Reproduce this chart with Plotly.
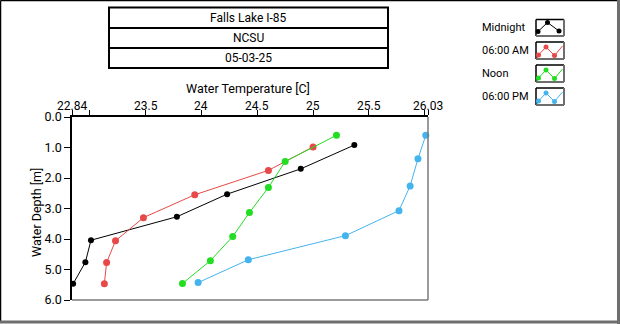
import plotly.graph_objects as go

# Temperature profiles (deg C) against depth (m) for four times of day
depth_midnight = [0.92, 1.70, 2.53, 3.27, 4.04, 4.76, 5.47]
temp_midnight = [25.37, 24.89, 24.23, 23.78, 23.01, 22.96, 22.85]

depth_6am = [0.98, 1.75, 2.55, 3.30, 4.06, 4.77, 5.47]
temp_6am = [25.00, 24.60, 23.94, 23.48, 23.23, 23.15, 23.13]

depth_noon = [0.60, 1.46, 2.31, 3.13, 3.92, 4.71, 5.46]
temp_noon = [25.21, 24.75, 24.60, 24.43, 24.28, 24.08, 23.83]

depth_6pm = [0.60, 1.37, 2.26, 3.07, 3.89, 4.68, 5.43]
temp_6pm = [26.01, 25.94, 25.87, 25.77, 25.29, 24.42, 23.97]

series_names = ["Midnight", "06:00 AM", "Noon", "06:00 PM"]
header_lines = ["Falls Lake I-85", "NCSU", "05-03-25"]

x_tickvals = [22.84, 23, 23.5, 24, 24.5, 25, 25.5, 26, 26.03]
x_ticktext = ["22.84", "", "23.5", "24", "24.5", "25", "25.5", "", "26.03"]
y_tickvals = [0, 1, 2, 3, 4, 5, 6]
y_ticktext = ["0.0", "1.0", "2.0", "3.0", "4.0", "5.0", "6.0"]

COLORS = ["#000000", "#E84848", "#22DD22", "#44B4EE"]
FONT = "Roboto"

W, H = 620, 324
L, R, T, B = 72, 428, 117, 300  # plot area in pixels


def px(x):
    return (x - L) / (R - L)


def py(y):
    return (B - y) / (B - T)


fig = go.Figure()
profiles = [(temp_midnight, depth_midnight), (temp_6am, depth_6am),
            (temp_noon, depth_noon), (temp_6pm, depth_6pm)]
for (t, d), name, c in zip(profiles, series_names, COLORS):
    fig.add_trace(go.Scatter(
        x=t, y=d, mode="lines+markers", name=name,
        line=dict(color=c, width=1),
        marker=dict(color=c, size=6 if c == "#000000" else 7, symbol="circle"),
        showlegend=False, cliponaxis=False,
    ))

shapes = []
annotations = []

# outer frame: dark top/left, grey bottom/right
shapes += [
    dict(type="line", xref="paper", yref="paper", x0=px(0.5), x1=px(619), y0=py(0.5), y1=py(0.5),
         line=dict(color="#000000", width=1.5)),
    dict(type="line", xref="paper", yref="paper", x0=px(0.5), x1=px(0.5), y0=py(0.5), y1=py(322),
         line=dict(color="#000000", width=1.5)),
    dict(type="line", xref="paper", yref="paper", x0=px(618.5), x1=px(618.5), y0=py(0), y1=py(324),
         line=dict(color="#6E6E6E", width=3)),
    dict(type="line", xref="paper", yref="paper", x0=px(0), x1=px(620), y0=py(322), y1=py(322),
         line=dict(color="#6E6E6E", width=3)),
]

# plot frame: grey bottom and right edges
shapes += [
    dict(type="line", xref="paper", yref="paper", x0=0, x1=1, y0=0, y1=0,
         line=dict(color="#7A7A7A", width=1.5)),
    dict(type="line", xref="paper", yref="paper", x0=1, x1=1, y0=0, y1=1,
         line=dict(color="#7A7A7A", width=1.5)),
]

# header boxes
rows = [(7.5, 28), (28, 48), (48, 68)]
for (y0, y1), txt in zip(rows, header_lines):
    shapes.append(dict(type="rect", xref="paper", yref="paper",
                       x0=px(109), x1=px(388), y0=py(y1), y1=py(y0),
                       line=dict(color="#000000", width=2)))
    annotations.append(dict(text=txt, xref="paper", yref="paper", x=px(248.5), y=py((y0 + y1) / 2),
                            showarrow=False, xanchor="center", yanchor="middle",
                            font=dict(family=FONT, size=12, color="#000000")))

# axis titles
annotations.append(dict(text="Water Temperature [C]", xref="paper", yref="paper",
                        x=px(248), y=py(88), showarrow=False, xanchor="center", yanchor="middle",
                        font=dict(family=FONT, size=12.5, color="#000000")))
annotations.append(dict(text="Water Depth [m]", xref="paper", yref="paper",
                        x=px(36), y=py(213), showarrow=False, xanchor="center", yanchor="middle",
                        textangle=-90, font=dict(family=FONT, size=12.5, color="#000000")))

# temperature tick labels sitting just above the tick marks
for v, txt in zip(x_tickvals, x_ticktext):
    if txt:
        annotations.append(dict(text=txt, xref="x", yref="paper", x=v, y=py(105.5),
                                showarrow=False, xanchor="center", yanchor="middle",
                                font=dict(family=FONT, size=12, color="#000000")))

# legend: labels and plot-style icons
icon_rows = [(19.5, 36), (42, 59), (65, 82), (88, 105)]
for i, ((y0, y1), name, c) in enumerate(zip(icon_rows, series_names, COLORS)):
    annotations.append(dict(text=name, xref="paper", yref="paper", x=px(480), y=py((y0 + y1) / 2),
                            showarrow=False, xanchor="left", yanchor="middle",
                            font=dict(family=FONT, size=11, color="#000000")))
    x0, x1 = 536, 564
    shapes += [
        dict(type="rect", xref="paper", yref="paper", x0=px(x0), x1=px(x1), y0=py(y1), y1=py(y0),
             line=dict(width=0), fillcolor="#FFFFFF"),
        dict(type="line", xref="paper", yref="paper", x0=px(x0), x1=px(x1), y0=py(y0), y1=py(y0),
             line=dict(color="#000000", width=1.5)),
        dict(type="line", xref="paper", yref="paper", x0=px(x0), x1=px(x0), y0=py(y0), y1=py(y1),
             line=dict(color="#000000", width=1.5)),
        dict(type="line", xref="paper", yref="paper", x0=px(x1), x1=px(x1), y0=py(y0), y1=py(y1),
             line=dict(color="#6E6E6E", width=2)),
        dict(type="line", xref="paper", yref="paper", x0=px(x0), x1=px(x1), y0=py(y1), y1=py(y1),
             line=dict(color="#6E6E6E", width=2)),
    ]
    if i == 0:
        pts = [(538, y0 + 12), (547.5, y0 + 3), (559, y0 + 11.5)]
        ext = []
    else:
        pts = [(538.5, y0 + 13), (546, y0 + 5), (554.5, y0 + 13.5)]
        ext = [(537, y0 + 16), (562.5, y0 + 4)]
    line_pts = ([ext[0]] if ext else []) + pts + ([ext[1]] if ext else [])
    path = "M " + " L ".join(f"{px(a)},{py(b)}" for a, b in line_pts)
    shapes.append(dict(type="path", xref="paper", yref="paper", path=path,
                       line=dict(color=c, width=1)))
    r = 2.5
    for a, b in pts:
        shapes.append(dict(type="circle", xref="paper", yref="paper",
                           x0=px(a - r), x1=px(a + r), y0=py(b + r), y1=py(b - r),
                           fillcolor=c, line=dict(width=0)))

fig.update_layout(
    width=W, height=H,
    margin=dict(l=L, r=W - R, t=T, b=H - B),
    paper_bgcolor="#FFFFFF", plot_bgcolor="#FFFFFF",
    shapes=shapes, annotations=annotations,
    font=dict(family=FONT, size=12, color="#000000"),
    xaxis=dict(side="top", range=[22.84, 26.03], tickvals=x_tickvals, showticklabels=False,
               ticks="outside", ticklen=5, tickwidth=1, tickcolor="#000000",
               showline=True, linecolor="#000000", linewidth=1.5, showgrid=False,
               zeroline=False),
    yaxis=dict(range=[6, 0], tickvals=y_tickvals, ticktext=y_ticktext,
               ticks="outside", ticklen=6, tickwidth=1, tickcolor="#000000",
               showline=True, linecolor="#000000", linewidth=1.5, showgrid=False,
               zeroline=False, tickfont=dict(family=FONT, size=12.5)),
)

fig.write_html("out.html")
